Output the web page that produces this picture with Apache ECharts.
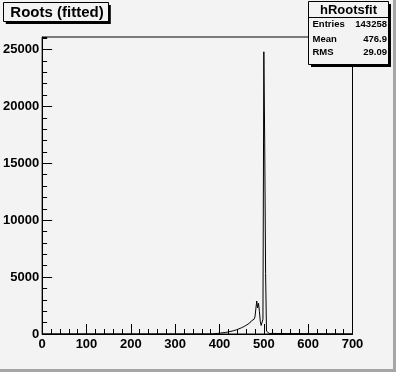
<!DOCTYPE html>
<html>
<head>
<meta charset="utf-8">
<script src="https://cdn.jsdelivr.net/npm/echarts@6/dist/echarts.min.js"></script>
<style>
html,body{margin:0;padding:0;background:#f3f3f3;}
#c{width:396px;height:372px;}
</style>
</head>
<body>
<div id="c"></div>
<script>
// Histogram data (bin width 2, starting at binStart)
const binStart = 378;
const binWidth = 2;
const counts = [
  5, 10, 15, 20, 25, 30, 40, 50, 55, 60, 70,
  80, 90, 100, 110, 120, 130, 140, 155, 170, 185,
  200, 215, 235, 255, 275, 295, 315, 340, 365, 395,
  425, 455, 490, 520, 555, 590, 630, 670, 715, 760,
  810, 860, 910, 965, 1020, 1080, 1150, 1220, 1300, 1400,
  1500, 1650, 2900, 2300, 2700, 2000, 1100, 750, 900, 1300,
  24800, 16800, 5300, 250, 100, 50, 20, 0
];
const xMin = 0, xMax = 700;
const yMax = 26100;
const xTicks = [0, 100, 200, 300, 400, 500, 600, 700];
const yTicks = [0, 5000, 10000, 15000, 20000, 25000];
const titleText = 'Roots (fitted)';
const statsName = 'hRootsfit';
const statsRows = [['Entries', '143258'], ['Mean', '476.9'], ['RMS', '29.09']];

const pts = [[xMin, 0]];
counts.forEach((v, i) => pts.push([binStart + i * binWidth, v]));
pts.push([binStart + counts.length * binWidth, 0]);
pts.push([xMax, 0]);

const FONT = 'Liberation Sans';
const BG = '#f3f3f3';
const chart = echarts.init(document.getElementById('c'), null, {renderer: 'canvas'});

const statsGraphics = [];
const sx = 308.5, sy = 1.5, sw = 80, sh = 63;
statsGraphics.push({type:'rect', shape:{x:sx+2.5, y:sy+2.5, width:sw, height:sh}, style:{fill:'#000'}, z:100});
statsGraphics.push({type:'rect', shape:{x:sx, y:sy, width:sw, height:sh}, style:{fill:BG, stroke:'#000', lineWidth:1}, z:101});
statsGraphics.push({type:'line', shape:{x1:sx, y1:17.5, x2:sx+sw, y2:17.5}, style:{stroke:'#000', lineWidth:1}, z:102});
statsGraphics.push({type:'text', x:sx+sw/2, y:10, style:{text:statsName, font:'bold 13px "' + FONT + '"', fill:'#000', align:'center', verticalAlign:'middle'}, z:103});
const rowY = [24.5, 39, 52.7];
statsRows.forEach((r, i) => {
  statsGraphics.push({type:'text', x:312.5, y:rowY[i], style:{text:r[0], font:'bold 9.5px "' + FONT + '"', fill:'#000', align:'left', verticalAlign:'middle'}, z:103});
  statsGraphics.push({type:'text', x:387, y:rowY[i], style:{text:r[1], font:'bold 9.5px "' + FONT + '"', fill:'#000', align:'right', verticalAlign:'middle'}, z:103});
});

const option = {
  backgroundColor: BG,
  animation: false,
  grid: {left: 39, right: 43.5, top: 37, bottom: 38, show: true, borderColor: '#000', borderWidth: 1, backgroundColor: 'transparent', containLabel: false},
  xAxis: {
    type: 'value', min: xMin, max: xMax, interval: 100,
    axisLine: {show: true, lineStyle: {color: '#000', width: 1}},
    axisTick: {show: true, inside: true, length: 10, lineStyle: {color: '#000'}},
    minorTick: {show: true, splitNumber: 5, length: 5, lineStyle: {color: '#000'}},
    splitLine: {show: false},
    axisLabel: {color: '#000', fontFamily: FONT, fontWeight: 'bold', fontSize: 13, margin: 4,
      formatter: v => (xTicks.indexOf(v) >= 0 ? String(v) : '')}
  },
  yAxis: [{
    type: 'value', min: 0, max: yMax, interval: 5000,
    axisLine: {show: true, lineStyle: {color: '#000', width: 1}},
    axisTick: {show: true, inside: true, length: 10, lineStyle: {color: '#000'}},
    splitLine: {show: false},
    axisLabel: {color: '#000', fontFamily: FONT, fontWeight: 'bold', fontSize: 13, margin: 3, showMaxLabel: false,
      formatter: v => (yTicks.indexOf(v) >= 0 ? String(v) : '')}
  }, {
    type: 'value', min: 0, max: yMax, interval: 1000, position: 'left', offset: 0,
    axisLine: {show: false},
    axisTick: {show: true, inside: true, length: 5, lineStyle: {color: '#000'}},
    splitLine: {show: false},
    axisLabel: {show: false}
  }],
  series: [{
    type: 'line', step: 'end', data: pts, yAxisIndex: 0,
    showSymbol: false, symbol: 'none',
    lineStyle: {color: '#000', width: 1}, z: 5
  }],
  graphic: [
    {type:'rect', shape:{x:393, y:0, width:3, height:372}, style:{fill:'#a6a6a6'}, z:90},
    {type:'rect', shape:{x:0, y:369, width:396, height:3}, style:{fill:'#a6a6a6'}, z:90},
    {type:'rect', shape:{x:5.8, y:5, width:105, height:19}, style:{fill:'#000'}, z:100},
    {type:'rect', shape:{x:3.5, y:2.5, width:105, height:19}, style:{fill:BG, stroke:'#000', lineWidth:1}, z:101},
    {type:'text', x:57, y:12.5, style:{text:titleText, font:'bold 15px "' + FONT + '"', fill:'#000', align:'center', verticalAlign:'middle'}, z:103}
  ].concat(statsGraphics)
};
chart.setOption(option);
</script>
</body>
</html>
